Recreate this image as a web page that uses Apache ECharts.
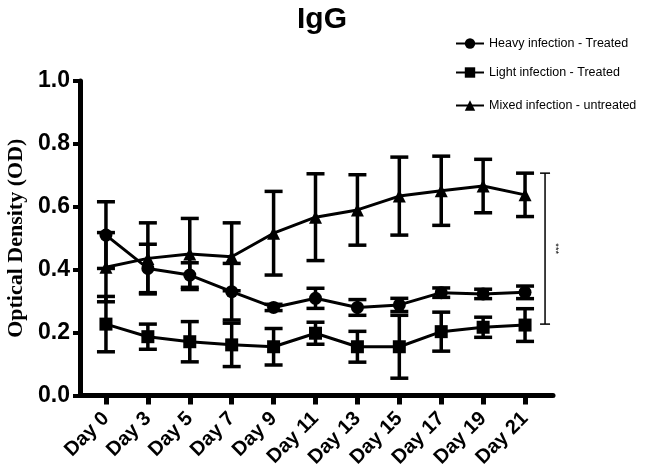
<!DOCTYPE html>
<html>
<head>
<meta charset="utf-8">
<script src="https://cdn.jsdelivr.net/npm/echarts@6/dist/echarts.min.js"></script>
<style>html,body{margin:0;padding:0;background:#fff}#c{width:646px;height:476px}</style>
</head>
<body>
<div id="c"></div>
<script>
const categories = ['Day 0','Day 3','Day 5','Day 7','Day 9','Day 11','Day 13','Day 15','Day 17','Day 19','Day 21'];
const yTicks = [0, 0.2, 0.4, 0.6, 0.8, 1.0];
const heavyMean = [0.510, 0.404, 0.383, 0.330, 0.280, 0.309, 0.280, 0.288, 0.327, 0.323, 0.328];
const heavyErr  = [0.106, 0.077, 0.039, 0.090, 0.010, 0.032, 0.025, 0.021, 0.015, 0.015, 0.020];
const lightMean = [0.227, 0.187, 0.171, 0.161, 0.155, 0.198, 0.155, 0.155, 0.203, 0.217, 0.224];
const lightErr  = [0.088, 0.040, 0.064, 0.069, 0.058, 0.035, 0.049, 0.100, 0.062, 0.032, 0.052];
const mixedMean = [0.408, 0.436, 0.450, 0.441, 0.516, 0.567, 0.590, 0.634, 0.651, 0.666, 0.638];
const mixedErr  = [0.110, 0.113, 0.113, 0.108, 0.133, 0.138, 0.112, 0.124, 0.110, 0.085, 0.069];
const seriesNames = ['Heavy infection - Treated', 'Light infection - Treated', 'Mixed infection - untreated'];
const bracketRange = [0.227, 0.707];
const bracketLabel = '***';

function errData(m, e) { return m.map((v, i) => [i, v - e[i], v + e[i]]); }

function errRender(params, api) {
  const i = api.value(0);
  const a = api.coord([i, api.value(1)]);
  const b = api.coord([i, api.value(2)]);
  const w = 9;
  const st = { stroke: '#000', lineWidth: 3.5 };
  return { type: 'group', children: [
    { type: 'line', shape: { x1: a[0], y1: a[1], x2: b[0], y2: b[1] }, style: st },
    { type: 'line', shape: { x1: a[0] - w, y1: a[1], x2: a[0] + w, y2: a[1] }, style: st },
    { type: 'line', shape: { x1: b[0] - w, y1: b[1], x2: b[0] + w, y2: b[1] }, style: st }
  ]};
}

function bracketRender(params, api) {
  const i = api.value(0);
  const a = api.coord([i, api.value(1)]);
  const b = api.coord([i, api.value(2)]);
  const x = a[0] + 20;
  const w = 5;
  const st = { stroke: '#000', lineWidth: 1.5 };
  return { type: 'group', children: [
    { type: 'line', shape: { x1: x, y1: a[1], x2: x, y2: b[1] }, style: st },
    { type: 'line', shape: { x1: x - w, y1: a[1], x2: x + w, y2: a[1] }, style: st },
    { type: 'line', shape: { x1: x - w, y1: b[1], x2: x + w, y2: b[1] }, style: st },
    { type: 'text', x: x + 10, y: (a[1] + b[1]) / 2, rotation: -Math.PI / 2,
      style: { text: bracketLabel, fill: '#000', font: '9px "Liberation Sans", Arial, sans-serif', align: 'center', verticalAlign: 'middle' } }
  ]};
}

const chart = echarts.init(document.getElementById('c'), null, { renderer: 'canvas' });
const legendFont = { fontFamily: '"Liberation Sans Narrow", "Arial Narrow", "Liberation Sans", sans-serif', fontSize: 12.5, color: '#000' };
const mkLegend = (name, top) => ({ data: [name], left: 455, top: top, orient: 'vertical', itemWidth: 28, itemHeight: 13, itemGap: 0, textStyle: legendFont, padding: 0 });

const markerOf = ['circle', 'rect', 'triangle'];
const means = [heavyMean, lightMean, mixedMean];
const errs = [heavyErr, lightErr, mixedErr];

const series = [];
for (let k = 0; k < 3; k++) {
  series.push({
    type: 'custom', name: seriesNames[k] + ' SEM', xAxisIndex: 1, yAxisIndex: 1,
    renderItem: errRender, data: errData(means[k], errs[k]), silent: true, z: 2
  });
}
for (let k = 0; k < 3; k++) {
  series.push({
    type: 'line', name: seriesNames[k], xAxisIndex: 1, yAxisIndex: 1,
    data: means[k], symbol: markerOf[k], symbolSize: 13, showSymbol: true,
    lineStyle: { color: '#000', width: 3 }, itemStyle: { color: '#000' }, z: 3, animation: false
  });
}
series.push({
  type: 'custom', xAxisIndex: 1, yAxisIndex: 1, renderItem: bracketRender,
  data: [[categories.length - 1, bracketRange[0], bracketRange[1]]], silent: true, z: 4
});

chart.setOption({
  animation: false,
  backgroundColor: '#fff',
  title: { text: 'IgG', left: 317, top: 0, textAlign: 'center',
    textStyle: { fontFamily: '"Liberation Sans", Arial, sans-serif', fontSize: 30, fontWeight: 'bold', color: '#000' } },
  legend: [ mkLegend(seriesNames[0], 37), mkLegend(seriesNames[1], 66), mkLegend(seriesNames[2], 99) ],
  grid: [
    { left: 80, right: 93, top: 81, bottom: 80.5, containLabel: false, outerBoundsMode: 'none' },
    { left: 85, right: 100, top: 81, bottom: 80.5, containLabel: false, outerBoundsMode: 'none' }
  ],
  xAxis: [
    { type: 'value', gridIndex: 0, min: 0, max: 1, axisLine: { lineStyle: { color: '#000', width: 5 } },
      axisTick: { show: false }, axisLabel: { show: false }, splitLine: { show: false } },
    { type: 'category', gridIndex: 1, data: categories, boundaryGap: true,
      axisLine: { show: false },
      axisTick: { show: true, alignWithLabel: true, length: 9, lineStyle: { color: '#000', width: 5 } },
      axisLabel: { rotate: 45, margin: 20, interval: 0, fontFamily: '"Liberation Sans", Arial, sans-serif', fontSize: 20, fontWeight: 'bold', color: '#000' },
      splitLine: { show: false } }
  ],
  yAxis: [
    { type: 'value', gridIndex: 0, min: yTicks[0], max: yTicks[yTicks.length - 1], interval: 0.2,
      name: 'Optical Density (OD)', nameLocation: 'middle', nameRotate: 90, nameGap: 52,
      nameTextStyle: { fontFamily: '"Liberation Serif", "Times New Roman", serif', fontSize: 22, fontWeight: 'bold', color: '#000' },
      axisLine: { show: true, lineStyle: { color: '#000', width: 5 } },
      axisTick: { show: true, length: 7, lineStyle: { color: '#000', width: 4 } },
      axisLabel: { margin: 10, formatter: v => v.toFixed(1), fontFamily: '"Liberation Sans", Arial, sans-serif', fontSize: 23, fontWeight: 'bold', color: '#000' },
      splitLine: { show: false } },
    { type: 'value', gridIndex: 1, min: 0, max: 1, show: false, splitLine: { show: false } }
  ],
  series: series
});
</script>
</body>
</html>
